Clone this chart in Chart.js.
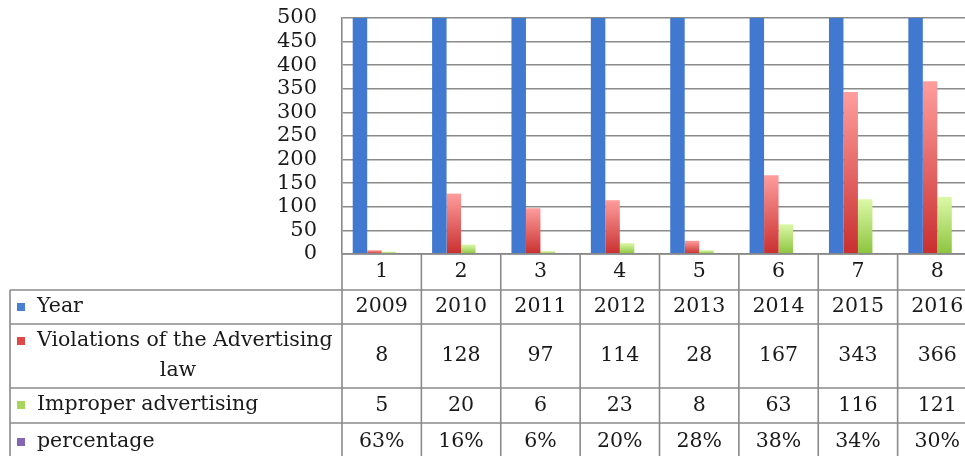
<!DOCTYPE html>
<html>
<head>
<meta charset="utf-8">
<script src="https://cdn.jsdelivr.net/npm/chart.js@4.4.0/dist/chart.umd.min.js"></script>
<style>
    body { margin: 0; background: #fff; }
    #wrap { width: 965px; height: 456px; overflow: hidden; }
    #box { width: 980px; height: 456px; }
</style>
</head>
<body>
<div id="wrap"><div id="box"><canvas id="chart"></canvas></div></div>
<script>
// chart data
const categories = ['1', '2', '3', '4', '5', '6', '7', '8'];
const years = [2009, 2010, 2011, 2012, 2013, 2014, 2015, 2016];
const violations = [8, 128, 97, 114, 28, 167, 343, 366];
const improper = [5, 20, 6, 23, 8, 63, 116, 121];
const percentage = [0.63, 0.16, 0.06, 0.20, 0.28, 0.38, 0.34, 0.30];
const seriesNames = ['Year', 'Violations of the Advertising law', 'Improper advertising', 'percentage'];
const yMax = 500;
const yStep = 50;

const FONT = '"DejaVu Serif", serif';
const LINE = '#8a8a8a';
const TEXT = '#1a1a1a';

// vertical gradient for each bar, light at top and dark at bottom
function barGradient(topColor, bottomColor) {
    return function (context) {
        const chart = context.chart;
        const area = chart.chartArea;
        if (!area) return bottomColor;
        const v = context.raw || 0;
        const yTop = chart.scales.y.getPixelForValue(Math.min(v, yMax));
        const g = chart.ctx.createLinearGradient(0, yTop, 0, area.bottom);
        g.addColorStop(0, topColor);
        g.addColorStop(1, bottomColor);
        return g;
    };
}

// draws the data table under the plot
const dataTable = {
    id: 'dataTable',
    afterDraw(chart) {
        const ctx = chart.ctx;
        const area = chart.chartArea;
        const x = chart.scales.x;
        const colW = (area.right - area.left) / categories.length;
        const tableLeft = 10;
        const rows = [area.bottom, 290, 324, 388, 423, 470];

        ctx.save();
        ctx.strokeStyle = LINE;
        ctx.lineWidth = 1.6;

        // horizontal lines
        ctx.beginPath();
        ctx.moveTo(area.left, rows[0]);
        ctx.lineTo(area.right, rows[0]);
        for (let r = 1; r < rows.length - 1; r++) {
            ctx.moveTo(tableLeft, rows[r]);
            ctx.lineTo(area.right, rows[r]);
        }
        // vertical lines
        ctx.moveTo(tableLeft, rows[1]);
        ctx.lineTo(tableLeft, rows[rows.length - 1]);
        for (let i = 0; i <= categories.length; i++) {
            const px = area.left + i * colW;
            ctx.moveTo(px, rows[0]);
            ctx.lineTo(px, rows[rows.length - 1]);
        }
        ctx.stroke();

        ctx.fillStyle = TEXT;
        ctx.font = '20.5px ' + FONT;
        ctx.textAlign = 'center';
        ctx.textBaseline = 'middle';

        const tableRows = [
            categories,
            years.map(String),
            violations.map(String),
            improper.map(String),
            percentage.map(p => Math.round(p * 100) + '%')
        ];
        tableRows.forEach(function (vals, r) {
            const cy = (rows[r] + rows[r + 1]) / 2;
            const yy = r === 4 ? 442 : cy;
            vals.forEach(function (v, i) {
                ctx.fillText(v, x.getPixelForValue(i), yy);
            });
        });

        // legend column
        const colors = ['#4a7fd4', '#e04848', '#a6d65a', '#8466b4'];
        const labelY = [307, 341, 405, 442];
        ctx.textAlign = 'left';
        for (let s = 0; s < 4; s++) {
            ctx.fillStyle = colors[s];
            ctx.fillRect(17, labelY[s] - 4, 8, 8);
            ctx.fillStyle = TEXT;
            if (s === 1) {
                ctx.fillText('Violations of the Advertising', 37, labelY[s]);
                ctx.textAlign = 'center';
                ctx.fillText('law', 178, 371);
                ctx.textAlign = 'left';
            } else {
                ctx.fillText(seriesNames[s], 37, labelY[s]);
            }
        }
        ctx.restore();
    }
};

new Chart(document.getElementById('chart'), {
    type: 'bar',
    data: {
        labels: categories,
        datasets: [
            { label: seriesNames[0], data: years, backgroundColor: '#4179d0' },
            { label: seriesNames[1], data: violations, backgroundColor: barGradient('#ff9d9d', '#c92f2f') },
            { label: seriesNames[2], data: improper, backgroundColor: barGradient('#dcf8a8', '#8cc43e') },
            { label: seriesNames[3], data: percentage, backgroundColor: '#8064a2' }
        ]
    },
    options: {
        responsive: true,
        maintainAspectRatio: false,
        animation: false,
        categoryPercentage: 0.73,
        barPercentage: 1,
        layout: { padding: { top: 18, right: 3, bottom: 202, left: 0 } },
        plugins: {
            legend: { display: false },
            tooltip: { enabled: false }
        },
        scales: {
            x: { display: false },
            y: {
                min: 0,
                max: yMax,
                afterFit: function (scale) { scale.width = 342; },
                ticks: {
                    stepSize: yStep,
                    autoSkip: false,
                    padding: 0,
                    color: TEXT,
                    font: { family: FONT, size: 21, lineHeight: 1 }
                },
                grid: { color: LINE, lineWidth: 1.6, drawTicks: true, tickLength: 25, tickColor: 'rgba(0,0,0,0)' },
                border: { color: LINE, width: 1.6 }
            }
        }
    },
    plugins: [dataTable]
});
</script>
</body>
</html>
